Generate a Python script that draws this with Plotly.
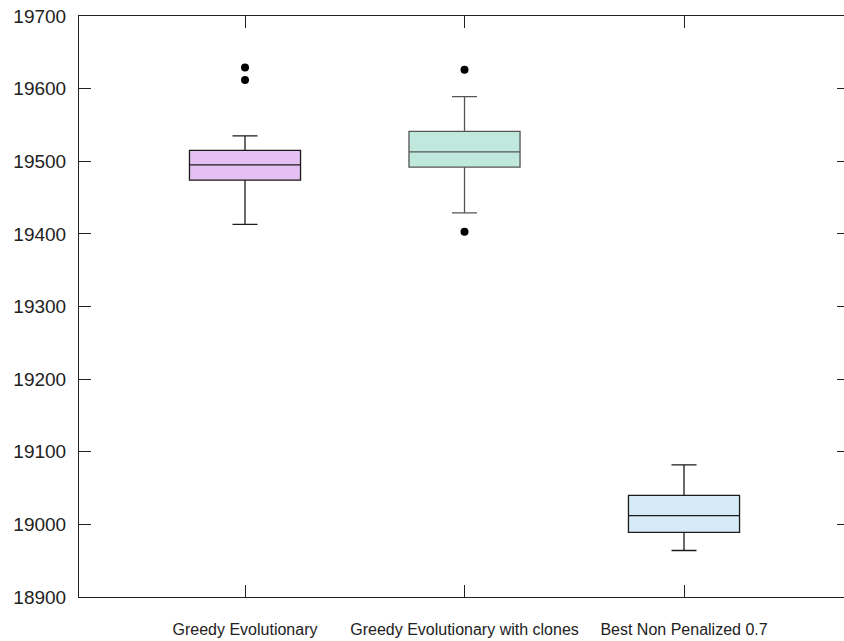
import plotly.graph_objects as go

categories = ["Greedy Evolutionary", "Greedy Evolutionary with clones", "Best Non Penalized 0.7"]
positions = [1, 2, 3]
lower_whisker = [19413, 19429, 18964]
q1 = [19474, 19492, 18989]
median = [19495, 19513, 19012]
q3 = [19515, 19541, 19040]
upper_whisker = [19535, 19589, 19082]
outlier_x = [1, 1, 2, 2]
outlier_y = [19629, 19612, 19626, 19403]
fill_colors = ["#e5c0f2", "#c0e8dc", "#d5ebf8"]
line_colors = ["#1a1a1a", "#555555", "#1a1a1a"]
y_ticks = list(range(18900, 19701, 100))
y_tick_labels = [str(v) for v in y_ticks]

fig = go.Figure()
for i in range(3):
    fig.add_trace(go.Box(
        x=[positions[i]],
        q1=[q1[i]], median=[median[i]], q3=[q3[i]],
        lowerfence=[lower_whisker[i]], upperfence=[upper_whisker[i]],
        fillcolor=fill_colors[i],
        line=dict(color=line_colors[i], width=1.3),
        width=0.506, whiskerwidth=0.225,
        boxpoints=False, showlegend=False, hoverinfo="skip",
    ))

fig.add_trace(go.Scatter(
    x=outlier_x, y=outlier_y, mode="markers",
    marker=dict(color="black", size=8), showlegend=False, hoverinfo="skip",
))
# invisible trace for the right-side tick axis
fig.add_trace(go.Scatter(x=[None], y=[None], yaxis="y2", showlegend=False, hoverinfo="skip"))

axis_color = "#222222"
fig.update_layout(
    width=844, height=641,
    margin=dict(l=79, r=0, t=16, b=44, autoexpand=False),
    plot_bgcolor="white", paper_bgcolor="white",
    font=dict(family="Liberation Sans, Arial, sans-serif", color="#222222"),
    xaxis=dict(
        range=[0.2437, 3.7289],
        tickmode="array", tickvals=positions, ticktext=categories,
        ticks="inside", ticklen=12, tickcolor=axis_color, tickwidth=1,
        showline=True, linecolor=axis_color, linewidth=1, mirror="ticks",
        showgrid=False, zeroline=False,
        tickfont=dict(size=16), ticklabelstandoff=18,
    ),
    yaxis=dict(
        range=[18900, 19700], tickmode="array", tickvals=y_ticks, ticktext=y_tick_labels,
        ticks="inside", ticklen=12, tickcolor=axis_color, tickwidth=1,
        showline=True, linecolor=axis_color, linewidth=1, mirror=False,
        showgrid=False, zeroline=False,
        tickfont=dict(size=19), ticklabelstandoff=8,
    ),
    yaxis2=dict(
        range=[18900, 19700], tickmode="array", tickvals=y_ticks,
        overlaying="y", side="right",
        ticks="inside", ticklen=7, tickcolor=axis_color, tickwidth=1,
        showline=False, showticklabels=False, showgrid=False, zeroline=False,
    ),
)

fig.write_html(
    "out.html",
    config={"displayModeBar": False},
    post_script="document.body.style.margin='0';document.body.style.overflow='hidden';",
)
